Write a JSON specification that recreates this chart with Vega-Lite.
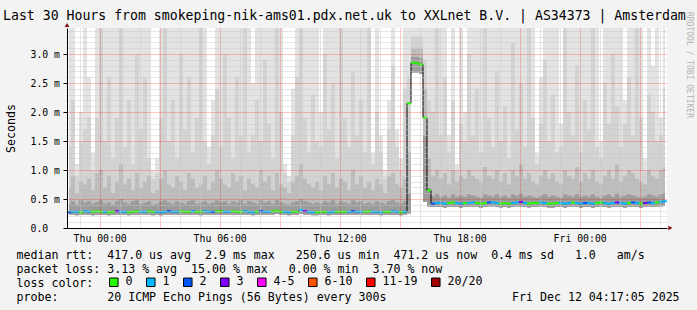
{
  "$schema": "https://vega.github.io/schema/vega-lite/v6.json",
  "width": 600,
  "height": 200,
  "autosize": {"type": "none"},
  "padding": {"left": 67, "top": 28, "right": 30, "bottom": 82},
  "background": "#f3f3f3",
  "title": {
    "text": "Last 30 Hours from smokeping-nik-ams01.pdx.net.uk to XXLnet B.V. | AS34373 | Amsterdam",
    "anchor": "start", "frame": "group", "dx": -64, "dy": 21,
    "font": "DejaVu Sans Mono", "fontSize": 13.2, "fontWeight": "normal", "color": "black",
    "baseline": "alphabetic", "offset": 0
  },
  "config": {
    "view": {"fill": "white", "stroke": null},
    "axis": {"labelFont": "DejaVu Sans Mono", "titleFont": "DejaVu Sans Mono", "labelColor": "black", "titleColor": "black", "titleFontWeight": "normal", "labelFontSize": 9.8}
  },
  "resolve": {"axis": {"x": "independent", "y": "independent"}},
  "data": {"values": [
    {"t":"2025-12-10T22:28Z","m":0.27,"l":"2","lo":0.23,"a":0.42,"b":0.70,"c":1.4,"h":3.6},
    {"t":"2025-12-10T22:40Z","m":0.28,"l":"1","lo":0.23,"a":0.46,"b":0.90,"c":2.2,"h":3.6},
    {"t":"2025-12-10T22:52Z","m":0.28,"l":"1","lo":0.22,"a":0.40,"b":0.60,"c":0.9,"h":1.1},
    {"t":"2025-12-10T23:04Z","m":0.27,"l":"0","lo":0.23,"a":0.48,"b":0.80,"c":1.5,"h":2.0},
    {"t":"2025-12-10T23:16Z","m":0.29,"l":"1","lo":0.23,"a":0.44,"b":0.75,"c":1.7,"h":3.6},
    {"t":"2025-12-10T23:28Z","m":0.28,"l":"1","lo":0.23,"a":0.46,"b":0.85,"c":1.9,"h":2.6},
    {"t":"2025-12-10T23:40Z","m":0.28,"l":"0","lo":0.22,"a":0.42,"b":0.65,"c":1.0,"h":1.3},
    {"t":"2025-12-10T23:52Z","m":0.29,"l":"0","lo":0.23,"a":0.45,"b":0.95,"c":1.9,"h":3.6},
    {"t":"2025-12-11T00:04Z","m":0.28,"l":"0","lo":0.23,"a":0.48,"b":1.0,"c":3.6,"h":3.6},
    {"t":"2025-12-11T00:16Z","m":0.28,"l":"1","lo":0.23,"a":0.42,"b":0.70,"c":1.5,"h":3.6},
    {"t":"2025-12-11T00:28Z","m":0.27,"l":"0","lo":0.22,"a":0.44,"b":0.90,"c":2.6,"h":3.6},
    {"t":"2025-12-11T00:40Z","m":0.28,"l":"0","lo":0.23,"a":0.40,"b":0.60,"c":1.2,"h":3.6},
    {"t":"2025-12-11T00:52Z","m":0.29,"l":"3","lo":0.23,"a":0.46,"b":0.80,"c":1.9,"h":3.6},
    {"t":"2025-12-11T01:04Z","m":0.28,"l":"1","lo":0.23,"a":0.50,"b":1.1,"c":3.6,"h":3.6},
    {"t":"2025-12-11T01:16Z","m":0.28,"l":"1","lo":0.23,"a":0.44,"b":0.75,"c":1.4,"h":3.6},
    {"t":"2025-12-11T01:28Z","m":0.27,"l":"0","lo":0.22,"a":0.42,"b":0.85,"c":2.2,"h":3.6},
    {"t":"2025-12-11T01:40Z","m":0.28,"l":"0","lo":0.23,"a":0.46,"b":0.65,"c":1.1,"h":3.6},
    {"t":"2025-12-11T01:52Z","m":0.29,"l":"0","lo":0.23,"a":0.48,"b":0.95,"c":3.0,"h":3.6},
    {"t":"2025-12-11T02:04Z","m":0.28,"l":"1","lo":0.23,"a":0.42,"b":0.70,"c":1.7,"h":3.6},
    {"t":"2025-12-11T02:16Z","m":0.28,"l":"1","lo":0.23,"a":0.44,"b":0.80,"c":2.6,"h":3.6},
    {"t":"2025-12-11T02:28Z","m":0.29,"l":"0","lo":0.23,"a":0.46,"b":0.90,"c":1.2,"h":3.6},
    {"t":"2025-12-11T02:40Z","m":0.28,"l":"0","lo":0.22,"a":0.40,"b":0.60,"c":0.85,"h":1.0},
    {"t":"2025-12-11T02:52Z","m":0.28,"l":"1","lo":0.23,"a":0.42,"b":0.65,"c":0.95,"h":1.2},
    {"t":"2025-12-11T03:04Z","m":0.27,"l":"1","lo":0.22,"a":0.46,"b":0.85,"c":1.9,"h":3.6},
    {"t":"2025-12-11T03:16Z","m":0.28,"l":"1","lo":0.23,"a":0.48,"b":1.0,"c":3.6,"h":3.6},
    {"t":"2025-12-11T03:28Z","m":0.29,"l":"2","lo":0.23,"a":0.44,"b":0.75,"c":1.5,"h":3.6},
    {"t":"2025-12-11T03:40Z","m":0.28,"l":"1","lo":0.23,"a":0.42,"b":0.70,"c":2.2,"h":3.6},
    {"t":"2025-12-11T03:52Z","m":0.28,"l":"1","lo":0.23,"a":0.46,"b":0.90,"c":1.2,"h":3.6},
    {"t":"2025-12-11T04:04Z","m":0.29,"l":"0","lo":0.23,"a":0.44,"b":0.80,"c":3.0,"h":3.6},
    {"t":"2025-12-11T04:16Z","m":0.28,"l":"0","lo":0.23,"a":0.42,"b":0.65,"c":1.7,"h":3.6},
    {"t":"2025-12-11T04:28Z","m":0.28,"l":"0","lo":0.23,"a":0.46,"b":0.95,"c":2.6,"h":3.6},
    {"t":"2025-12-11T04:40Z","m":0.29,"l":"1","lo":0.23,"a":0.48,"b":0.85,"c":1.3,"h":3.6},
    {"t":"2025-12-11T04:52Z","m":0.28,"l":"0","lo":0.23,"a":0.42,"b":0.70,"c":1.9,"h":3.6},
    {"t":"2025-12-11T05:04Z","m":0.28,"l":"0","lo":0.22,"a":0.44,"b":0.75,"c":3.6,"h":3.6},
    {"t":"2025-12-11T05:16Z","m":0.29,"l":"1","lo":0.23,"a":0.46,"b":0.90,"c":1.5,"h":3.6},
    {"t":"2025-12-11T05:28Z","m":0.28,"l":"1","lo":0.23,"a":0.42,"b":0.65,"c":1.1,"h":1.4},
    {"t":"2025-12-11T05:40Z","m":0.28,"l":"2","lo":0.23,"a":0.44,"b":0.80,"c":1.6,"h":2.2},
    {"t":"2025-12-11T05:52Z","m":0.29,"l":"0","lo":0.23,"a":0.48,"b":1.0,"c":2.4,"h":3.6},
    {"t":"2025-12-11T06:04Z","m":0.29,"l":"0","lo":0.23,"a":0.44,"b":0.85,"c":1.4,"h":3.6},
    {"t":"2025-12-11T06:16Z","m":0.28,"l":"1","lo":0.23,"a":0.46,"b":0.75,"c":3.0,"h":3.6},
    {"t":"2025-12-11T06:28Z","m":0.28,"l":"1","lo":0.23,"a":0.42,"b":0.70,"c":1.9,"h":3.6},
    {"t":"2025-12-11T06:40Z","m":0.29,"l":"0","lo":0.23,"a":0.46,"b":0.95,"c":1.2,"h":3.6},
    {"t":"2025-12-11T06:52Z","m":0.28,"l":"0","lo":0.23,"a":0.44,"b":0.80,"c":2.6,"h":3.6},
    {"t":"2025-12-11T07:04Z","m":0.28,"l":"0","lo":0.23,"a":0.48,"b":0.90,"c":1.6,"h":3.6},
    {"t":"2025-12-11T07:16Z","m":0.29,"l":"1","lo":0.23,"a":0.42,"b":0.65,"c":3.6,"h":3.6},
    {"t":"2025-12-11T07:28Z","m":0.28,"l":"1","lo":0.23,"a":0.46,"b":0.85,"c":1.3,"h":3.6},
    {"t":"2025-12-11T07:40Z","m":0.27,"l":"1","lo":0.22,"a":0.44,"b":0.75,"c":1.6,"h":2.5},
    {"t":"2025-12-11T07:52Z","m":0.28,"l":"0","lo":0.23,"a":0.42,"b":0.70,"c":2.2,"h":3.6},
    {"t":"2025-12-11T08:04Z","m":0.29,"l":"2","lo":0.23,"a":0.48,"b":1.0,"c":1.5,"h":3.6},
    {"t":"2025-12-11T08:16Z","m":0.28,"l":"1","lo":0.23,"a":0.44,"b":0.80,"c":2.9,"h":3.6},
    {"t":"2025-12-11T08:28Z","m":0.28,"l":"1","lo":0.23,"a":0.46,"b":0.90,"c":1.8,"h":3.6},
    {"t":"2025-12-11T08:40Z","m":0.29,"l":"0","lo":0.23,"a":0.42,"b":0.65,"c":1.2,"h":3.6},
    {"t":"2025-12-11T08:52Z","m":0.30,"l":"0","lo":0.24,"a":0.48,"b":0.95,"c":3.6,"h":3.6},
    {"t":"2025-12-11T09:04Z","m":0.28,"l":"0","lo":0.23,"a":0.44,"b":0.75,"c":2.0,"h":3.6},
    {"t":"2025-12-11T09:16Z","m":0.28,"l":"1","lo":0.23,"a":0.42,"b":0.70,"c":0.95,"h":1.1},
    {"t":"2025-12-11T09:28Z","m":0.27,"l":"1","lo":0.22,"a":0.40,"b":0.60,"c":0.80,"h":0.9},
    {"t":"2025-12-11T09:40Z","m":0.28,"l":"0","lo":0.23,"a":0.44,"b":0.80,"c":1.6,"h":2.4},
    {"t":"2025-12-11T09:52Z","m":0.28,"l":"0","lo":0.23,"a":0.46,"b":0.90,"c":2.6,"h":3.6},
    {"t":"2025-12-11T10:04Z","m":0.31,"l":"1","lo":0.24,"a":0.50,"b":1.1,"c":3.6,"h":3.6},
    {"t":"2025-12-11T10:16Z","m":0.29,"l":"3","lo":0.23,"a":0.46,"b":0.85,"c":1.9,"h":3.6},
    {"t":"2025-12-11T10:28Z","m":0.28,"l":"1","lo":0.23,"a":0.44,"b":0.75,"c":1.3,"h":3.6},
    {"t":"2025-12-11T10:40Z","m":0.27,"l":"1","lo":0.22,"a":0.42,"b":0.70,"c":2.3,"h":3.6},
    {"t":"2025-12-11T10:52Z","m":0.27,"l":"0","lo":0.22,"a":0.44,"b":0.80,"c":1.5,"h":3.6},
    {"t":"2025-12-11T11:04Z","m":0.28,"l":"0","lo":0.23,"a":0.42,"b":0.65,"c":1.4,"h":2.0},
    {"t":"2025-12-11T11:16Z","m":0.28,"l":"0","lo":0.23,"a":0.46,"b":0.90,"c":3.0,"h":3.6},
    {"t":"2025-12-11T11:28Z","m":0.27,"l":"1","lo":0.22,"a":0.44,"b":0.75,"c":1.7,"h":3.6},
    {"t":"2025-12-11T11:40Z","m":0.28,"l":"1","lo":0.23,"a":0.48,"b":0.95,"c":2.5,"h":3.6},
    {"t":"2025-12-11T11:52Z","m":0.28,"l":"0","lo":0.23,"a":0.42,"b":0.70,"c":1.2,"h":3.6},
    {"t":"2025-12-11T12:04Z","m":0.28,"l":"0","lo":0.23,"a":0.46,"b":0.85,"c":3.6,"h":3.6},
    {"t":"2025-12-11T12:16Z","m":0.28,"l":"0","lo":0.23,"a":0.44,"b":0.80,"c":1.9,"h":3.6},
    {"t":"2025-12-11T12:28Z","m":0.28,"l":"1","lo":0.23,"a":0.42,"b":0.65,"c":1.4,"h":3.6},
    {"t":"2025-12-11T12:40Z","m":0.29,"l":"2","lo":0.23,"a":0.48,"b":1.0,"c":2.7,"h":3.6},
    {"t":"2025-12-11T12:52Z","m":0.28,"l":"1","lo":0.23,"a":0.44,"b":0.75,"c":1.6,"h":3.6},
    {"t":"2025-12-11T13:04Z","m":0.28,"l":"1","lo":0.23,"a":0.46,"b":0.90,"c":2.2,"h":3.6},
    {"t":"2025-12-11T13:16Z","m":0.28,"l":"0","lo":0.23,"a":0.42,"b":0.70,"c":1.3,"h":3.6},
    {"t":"2025-12-11T13:28Z","m":0.29,"l":"0","lo":0.23,"a":0.44,"b":0.80,"c":3.6,"h":3.6},
    {"t":"2025-12-11T13:40Z","m":0.28,"l":"1","lo":0.23,"a":0.42,"b":0.65,"c":1.1,"h":1.3},
    {"t":"2025-12-11T13:52Z","m":0.28,"l":"1","lo":0.23,"a":0.46,"b":0.85,"c":2.0,"h":3.6},
    {"t":"2025-12-11T14:04Z","m":0.27,"l":"1","lo":0.22,"a":0.44,"b":0.75,"c":1.3,"h":1.6},
    {"t":"2025-12-11T14:16Z","m":0.28,"l":"0","lo":0.23,"a":0.42,"b":0.60,"c":0.85,"h":1.0},
    {"t":"2025-12-11T14:28Z","m":0.28,"l":"0","lo":0.23,"a":0.46,"b":0.90,"c":1.7,"h":2.2},
    {"t":"2025-12-11T14:40Z","m":0.29,"l":"1","lo":0.23,"a":0.48,"b":0.95,"c":2.8,"h":3.6},
    {"t":"2025-12-11T14:52Z","m":0.28,"l":"1","lo":0.23,"a":0.44,"b":0.75,"c":1.4,"h":1.7},
    {"t":"2025-12-11T15:04Z","m":0.27,"l":"0","lo":0.22,"a":0.42,"b":0.70,"c":1.0,"h":1.2},
    {"t":"2025-12-11T15:16Z","m":0.28,"l":"1","lo":0.23,"a":0.46,"b":0.85,"c":2.4,"h":3.6},
    {"t":"2025-12-11T15:28Z","m":2.15,"l":"0","lo":0.25,"a":0.60,"b":1.3,"c":2.6,"h":3.6},
    {"t":"2025-12-11T15:40Z","m":2.85,"l":"0","lo":2.68,"a":2.95,"b":3.1,"c":3.3,"h":3.6},
    {"t":"2025-12-11T15:52Z","m":2.84,"l":"0","lo":2.68,"a":2.95,"b":3.1,"c":3.3,"h":3.6},
    {"t":"2025-12-11T16:04Z","m":2.82,"l":"0","lo":2.66,"a":2.93,"b":3.1,"c":3.3,"h":3.6},
    {"t":"2025-12-11T16:16Z","m":1.9,"l":"0","lo":0.45,"a":1.6,"b":2.4,"c":2.9,"h":3.6},
    {"t":"2025-12-11T16:28Z","m":0.65,"l":"0","lo":0.37,"a":0.70,"b":1.2,"c":2.2,"h":3.6},
    {"t":"2025-12-11T16:40Z","m":0.42,"l":"2","lo":0.36,"a":0.55,"b":0.90,"c":2.0,"h":3.6},
    {"t":"2025-12-11T16:52Z","m":0.43,"l":"1","lo":0.36,"a":0.58,"b":1.0,"c":3.6,"h":3.6},
    {"t":"2025-12-11T17:04Z","m":0.43,"l":"1","lo":0.36,"a":0.54,"b":0.85,"c":1.6,"h":3.6},
    {"t":"2025-12-11T17:16Z","m":0.42,"l":"1","lo":0.35,"a":0.56,"b":0.95,"c":2.6,"h":3.6},
    {"t":"2025-12-11T17:28Z","m":0.43,"l":"0","lo":0.36,"a":0.52,"b":0.75,"c":1.3,"h":1.6},
    {"t":"2025-12-11T17:40Z","m":0.44,"l":"0","lo":0.36,"a":0.58,"b":1.0,"c":2.2,"h":3.6},
    {"t":"2025-12-11T17:52Z","m":0.43,"l":"1","lo":0.36,"a":0.54,"b":0.80,"c":1.0,"h":1.1},
    {"t":"2025-12-11T18:04Z","m":0.42,"l":"1","lo":0.35,"a":0.56,"b":0.90,"c":1.8,"h":3.6},
    {"t":"2025-12-11T18:16Z","m":0.43,"l":"0","lo":0.36,"a":0.54,"b":0.85,"c":1.5,"h":2.0},
    {"t":"2025-12-11T18:28Z","m":0.43,"l":"1","lo":0.36,"a":0.58,"b":1.0,"c":3.0,"h":3.6},
    {"t":"2025-12-11T18:40Z","m":0.44,"l":"1","lo":0.37,"a":0.56,"b":0.90,"c":1.6,"h":3.6},
    {"t":"2025-12-11T18:52Z","m":0.43,"l":"0","lo":0.36,"a":0.54,"b":0.85,"c":2.4,"h":3.6},
    {"t":"2025-12-11T19:04Z","m":0.42,"l":"0","lo":0.35,"a":0.52,"b":0.80,"c":1.3,"h":3.6},
    {"t":"2025-12-11T19:16Z","m":0.43,"l":"0","lo":0.36,"a":0.58,"b":1.05,"c":3.6,"h":3.6},
    {"t":"2025-12-11T19:28Z","m":0.44,"l":"2","lo":0.37,"a":0.56,"b":0.90,"c":1.9,"h":3.6},
    {"t":"2025-12-11T19:40Z","m":0.44,"l":"1","lo":0.37,"a":0.54,"b":0.85,"c":1.4,"h":3.6},
    {"t":"2025-12-11T19:52Z","m":0.43,"l":"1","lo":0.36,"a":0.58,"b":1.0,"c":2.7,"h":3.6},
    {"t":"2025-12-11T20:04Z","m":0.42,"l":"0","lo":0.35,"a":0.54,"b":0.80,"c":1.5,"h":3.6},
    {"t":"2025-12-11T20:16Z","m":0.43,"l":"0","lo":0.36,"a":0.56,"b":0.95,"c":2.1,"h":3.6},
    {"t":"2025-12-11T20:28Z","m":0.42,"l":"0","lo":0.35,"a":0.52,"b":0.75,"c":1.2,"h":3.6},
    {"t":"2025-12-11T20:40Z","m":0.43,"l":"1","lo":0.36,"a":0.58,"b":1.0,"c":3.2,"h":3.6},
    {"t":"2025-12-11T20:52Z","m":0.44,"l":"1","lo":0.37,"a":0.56,"b":0.90,"c":1.7,"h":3.6},
    {"t":"2025-12-11T21:04Z","m":0.45,"l":"3","lo":0.37,"a":0.60,"b":1.1,"c":2.5,"h":3.6},
    {"t":"2025-12-11T21:16Z","m":0.43,"l":"1","lo":0.36,"a":0.54,"b":0.85,"c":1.4,"h":3.6},
    {"t":"2025-12-11T21:28Z","m":0.42,"l":"0","lo":0.35,"a":0.56,"b":0.95,"c":3.6,"h":3.6},
    {"t":"2025-12-11T21:40Z","m":0.43,"l":"0","lo":0.36,"a":0.54,"b":0.80,"c":1.9,"h":3.6},
    {"t":"2025-12-11T21:52Z","m":0.43,"l":"0","lo":0.36,"a":0.52,"b":0.75,"c":1.1,"h":1.3},
    {"t":"2025-12-11T22:04Z","m":0.44,"l":"1","lo":0.37,"a":0.56,"b":0.90,"c":1.8,"h":2.6},
    {"t":"2025-12-11T22:16Z","m":0.43,"l":"1","lo":0.36,"a":0.58,"b":1.0,"c":2.9,"h":3.6},
    {"t":"2025-12-11T22:28Z","m":0.42,"l":"0","lo":0.35,"a":0.54,"b":0.85,"c":1.5,"h":3.6},
    {"t":"2025-12-11T22:40Z","m":0.42,"l":"0","lo":0.35,"a":0.56,"b":0.95,"c":2.3,"h":3.6},
    {"t":"2025-12-11T22:52Z","m":0.43,"l":"0","lo":0.36,"a":0.54,"b":0.80,"c":1.3,"h":3.6},
    {"t":"2025-12-11T23:04Z","m":0.43,"l":"1","lo":0.36,"a":0.52,"b":0.75,"c":1.4,"h":1.8},
    {"t":"2025-12-11T23:16Z","m":0.42,"l":"1","lo":0.35,"a":0.58,"b":1.0,"c":3.6,"h":3.6},
    {"t":"2025-12-11T23:28Z","m":0.43,"l":"1","lo":0.36,"a":0.56,"b":0.90,"c":2.0,"h":3.6},
    {"t":"2025-12-11T23:40Z","m":0.44,"l":"0","lo":0.37,"a":0.54,"b":0.85,"c":1.6,"h":3.6},
    {"t":"2025-12-11T23:52Z","m":0.43,"l":"1","lo":0.36,"a":0.58,"b":1.05,"c":2.8,"h":3.6},
    {"t":"2025-12-12T00:04Z","m":0.42,"l":"1","lo":0.35,"a":0.54,"b":0.80,"c":1.3,"h":3.6},
    {"t":"2025-12-12T00:16Z","m":0.43,"l":"2","lo":0.36,"a":0.56,"b":0.95,"c":2.2,"h":3.6},
    {"t":"2025-12-12T00:28Z","m":0.43,"l":"1","lo":0.36,"a":0.54,"b":0.85,"c":1.7,"h":3.6},
    {"t":"2025-12-12T00:40Z","m":0.42,"l":"1","lo":0.35,"a":0.58,"b":1.0,"c":3.6,"h":3.6},
    {"t":"2025-12-12T00:52Z","m":0.43,"l":"0","lo":0.36,"a":0.54,"b":0.80,"c":1.4,"h":3.6},
    {"t":"2025-12-12T01:04Z","m":0.44,"l":"0","lo":0.37,"a":0.52,"b":0.75,"c":1.2,"h":1.5},
    {"t":"2025-12-12T01:16Z","m":0.43,"l":"1","lo":0.36,"a":0.56,"b":0.90,"c":2.5,"h":3.6},
    {"t":"2025-12-12T01:28Z","m":0.42,"l":"1","lo":0.35,"a":0.58,"b":1.0,"c":1.8,"h":3.6},
    {"t":"2025-12-12T01:40Z","m":0.43,"l":"1","lo":0.36,"a":0.54,"b":0.85,"c":3.0,"h":3.6},
    {"t":"2025-12-12T01:52Z","m":0.44,"l":"3","lo":0.37,"a":0.60,"b":1.1,"c":2.1,"h":3.6},
    {"t":"2025-12-12T02:04Z","m":0.43,"l":"1","lo":0.36,"a":0.54,"b":0.80,"c":1.4,"h":3.6},
    {"t":"2025-12-12T02:16Z","m":0.42,"l":"1","lo":0.35,"a":0.56,"b":0.90,"c":1.8,"h":2.2},
    {"t":"2025-12-12T02:28Z","m":0.43,"l":"0","lo":0.36,"a":0.58,"b":1.0,"c":2.6,"h":3.6},
    {"t":"2025-12-12T02:40Z","m":0.44,"l":"2","lo":0.37,"a":0.56,"b":0.95,"c":1.6,"h":3.6},
    {"t":"2025-12-12T02:52Z","m":0.43,"l":"1","lo":0.36,"a":0.54,"b":0.85,"c":3.6,"h":3.6},
    {"t":"2025-12-12T03:04Z","m":0.42,"l":"0","lo":0.35,"a":0.52,"b":0.80,"c":1.9,"h":3.6},
    {"t":"2025-12-12T03:16Z","m":0.43,"l":"3","lo":0.36,"a":0.54,"b":0.75,"c":1.0,"h":1.2},
    {"t":"2025-12-12T03:28Z","m":0.44,"l":"2","lo":0.37,"a":0.58,"b":1.0,"c":2.3,"h":3.6},
    {"t":"2025-12-12T03:40Z","m":0.43,"l":"1","lo":0.36,"a":0.56,"b":0.90,"c":2.0,"h":2.8},
    {"t":"2025-12-12T03:52Z","m":0.44,"l":"0","lo":0.37,"a":0.54,"b":0.85,"c":1.5,"h":3.6},
    {"t":"2025-12-12T04:04Z","m":0.45,"l":"1","lo":0.37,"a":0.58,"b":1.0,"c":1.6,"h":1.9},
    {"t":"2025-12-12T04:16Z","m":0.46,"l":"1","lo":0.38,"a":0.60,"b":1.05,"c":2.4,"h":3.6}
  ]},
  "layer": [
    {
      "mark": {"type": "area", "interpolate": "step", "color": "#e3e3e3", "clip": true},
      "encoding": {
        "x": {
          "field": "t", "type": "temporal",
          "scale": {"type": "utc", "domain": [1765405320000, 1765513320000], "nice": false},
          "axis": {
            "orient": "bottom",
            "values": [1765407600000,1765414800000,1765418400000,1765425600000,1765429200000,1765436400000,1765440000000,1765447200000,1765450800000,1765458000000,1765461600000,1765468800000,1765472400000,1765479600000,1765483200000,1765490400000,1765494000000,1765501200000,1765504800000,1765512000000],
            "labels": false, "ticks": false, "domain": false, "title": null,
            "grid": true, "gridColor": "rgba(200,200,200,0.9)", "gridDash": [1, 1], "gridWidth": 1,
            "zindex": 1
          }
        },
        "y": {
          "field": "lo", "type": "quantitative",
          "scale": {"domain": [0, 3.4483], "nice": false, "zero": true},
          "axis": {
            "orient": "left",
            "values": [0.1,0.2,0.3,0.4,0.6,0.7,0.8,0.9,1.1,1.2,1.3,1.4,1.6,1.7,1.8,1.9,2.1,2.2,2.3,2.4,2.6,2.7,2.8,2.9,3.1,3.2,3.3,3.4],
            "labels": false, "ticks": false, "domain": false, "title": null,
            "grid": true, "gridColor": "rgba(200,200,200,0.9)", "gridDash": [1, 1], "gridWidth": 1,
            "zindex": 1
          }
        },
        "y2": {"field": "h"}
      }
    },
    {
      "mark": {"type": "area", "interpolate": "step", "color": "#d3d3d3", "clip": true},
      "encoding": {
        "x": {
          "field": "t", "type": "temporal",
          "axis": {
            "orient": "bottom",
            "values": [1765411200000,1765422000000,1765432800000,1765443600000,1765454400000,1765465200000,1765476000000,1765486800000,1765497600000,1765508400000],
            "labels": false, "ticks": false, "domain": false, "title": null,
            "grid": true, "gridColor": "rgba(255,0,0,0.45)", "gridDash": [1, 1], "gridWidth": 1,
            "zindex": 1
          }
        },
        "y": {
          "field": "lo", "type": "quantitative",
          "axis": {
            "orient": "left",
            "values": [0.5,1.0,1.5,2.0,2.5,3.0],
            "labels": false, "ticks": false, "domain": false, "title": null,
            "grid": true, "gridColor": "rgba(255,0,0,0.45)", "gridDash": [1, 1], "gridWidth": 1,
            "zindex": 1
          }
        },
        "y2": {"field": "c"}
      }
    },
    {
      "mark": {"type": "area", "interpolate": "step", "color": "#bcbcbc", "clip": true},
      "encoding": {
        "x": {
          "field": "t", "type": "temporal",
          "axis": {
            "orient": "bottom",
            "values": [1765411200000,1765432800000,1765454400000,1765476000000,1765497600000],
            "labelExpr": "utcFormat(datum.value, '%a %H:%M')",
            "labelOverlap": false, "labelFlush": false, "labelBound": false,
            "labelFontSize": 9.8, "labelPadding": 13.5, "labelBaseline": "alphabetic", "labelAlign": "center",
            "ticks": false, "grid": false,
            "domain": true, "domainColor": "#000000", "domainWidth": 1,
            "title": [
              "median rtt:\u00a0\u00a0417.0 us avg\u00a0\u00a02.9 ms max\u00a0\u00a0\u00a0250.6 us min\u00a0\u00a0471.2 us now\u00a0\u00a00.4 ms sd\u00a0\u00a0\u00a01.0\u00a0\u00a0\u00a0am/s",
              "packet loss: 3.13 % avg\u00a0\u00a015.00 % max\u00a0\u00a0\u00a00.00 % min\u00a0\u00a03.70 % now",
              "loss color:",
              "probe:\u00a0\u00a0\u00a0\u00a0\u00a0\u00a0\u00a020 ICMP Echo Pings (56 Bytes) every 300s\u00a0\u00a0\u00a0\u00a0\u00a0\u00a0\u00a0\u00a0\u00a0\u00a0\u00a0\u00a0\u00a0\u00a0\u00a0\u00a0\u00a0\u00a0Fri Dec 12 04:17:05 2025"
            ],
            "titleFontSize": 11.6, "titleAnchor": "start", "titleAlign": "left", "titleBaseline": "alphabetic",
            "titleX": -51, "titleY": 30, "titleLineHeight": 14, "titleAngle": 0,
            "zindex": 2
          }
        },
        "y": {
          "field": "lo", "type": "quantitative",
          "axis": {
            "orient": "left",
            "values": [0, 0.5, 1.0, 1.5, 2.0, 2.5, 3.0],
            "format": ".1f",
            "labelExpr": "datum.value == 0 ? '0.0' : datum.label + ' m'",
            "labelAlign": "left", "labelBaseline": "middle", "labelPadding": 33, "labelFontSize": 9.8,
            "labelOverlap": false, "labelBound": false, "labelFlush": false,
            "ticks": true, "tickSize": 4, "tickColor": "#000000",
            "domain": true, "domainColor": "#000000", "grid": false,
            "title": "Seconds", "titleFontSize": 11.6, "titleX": -56, "titleY": 100, "titleAngle": -90,
            "titleAlign": "center", "titleBaseline": "middle",
            "zindex": 2
          }
        },
        "y2": {"field": "b"}
      }
    },
    {
      "mark": {"type": "area", "interpolate": "step", "color": "#9c9c9c", "clip": true},
      "encoding": {
        "x": {"field": "t", "type": "temporal", "axis": null},
        "y": {"field": "lo", "type": "quantitative", "axis": null},
        "y2": {"field": "a"}
      }
    },
    {
      "mark": {"type": "line", "interpolate": "step", "color": "#000000", "strokeWidth": 1, "clip": true},
      "encoding": {
        "x": {"field": "t", "type": "temporal", "axis": null},
        "y": {"field": "m", "type": "quantitative", "axis": null}
      }
    },
    {
      "mark": {"type": "tick", "orient": "horizontal", "size": 4, "thickness": 2, "opacity": 1},
      "encoding": {
        "x": {"field": "t", "type": "temporal", "axis": null},
        "y": {"field": "m", "type": "quantitative", "axis": null},
        "color": {
          "field": "l", "type": "nominal",
          "scale": {
            "domain": ["0", "1", "2", "3", "4-5", "6-10", "11-19", "20/20"],
            "range": ["#26ff00", "#00b8ff", "#0059ff", "#7e00ff", "#ff00ff", "#ff5500", "#ff0000", "#a00000"]
          },
          "legend": {
            "orient": "none", "legendX": 41, "legendY": 248, "direction": "horizontal", "title": null,
            "symbolType": "square", "symbolSize": 72, "symbolStrokeColor": "black", "symbolStrokeWidth": 1, "symbolOpacity": 1,
            "labelFont": "DejaVu Sans Mono", "labelFontSize": 11.6, "labelColor": "black", "labelOffset": 6, "labelLimit": 0,
            "columnPadding": 11, "padding": 0, "labelBaseline": "middle",
            "encode": {"symbols": {"update": {"stroke": {"value": "black"}, "strokeWidth": {"value": 1}, "opacity": {"value": 1}}}}
          }
        }
      }
    },
    {
      "data": {"values": [{}]},
      "mark": {"type": "point", "shape": "triangle-up", "filled": true, "size": 22, "color": "#801010", "opacity": 1},
      "encoding": {
        "x": {"datum": {"year": 2025, "month": 12, "date": 10, "hours": 22, "minutes": 22, "utc": true}, "type": "temporal", "axis": null},
        "y": {"datum": 3.5, "type": "quantitative", "axis": null}
      }
    },
    {
      "data": {"values": [{}]},
      "mark": {"type": "point", "shape": "triangle-right", "filled": true, "size": 22, "color": "#801010", "opacity": 1},
      "encoding": {
        "x": {"datum": {"year": 2025, "month": 12, "date": 12, "hours": 4, "minutes": 32, "utc": true}, "type": "temporal", "axis": null},
        "y": {"datum": 0, "type": "quantitative", "axis": null}
      }
    },
    {
      "data": {"values": [{}]},
      "mark": {"type": "text", "text": "RRDTOOL / TOBI OETIKER", "angle": 90, "align": "center", "baseline": "middle", "font": "DejaVu Sans Mono", "fontSize": 8, "color": "#b4b4b4"},
      "encoding": {
        "x": {"datum": {"year": 2025, "month": 12, "date": 12, "hours": 5, "minutes": 28, "utc": true}, "type": "temporal", "axis": null},
        "y": {"datum": 2.81, "type": "quantitative", "axis": null}
      }
    }
  ]
}
